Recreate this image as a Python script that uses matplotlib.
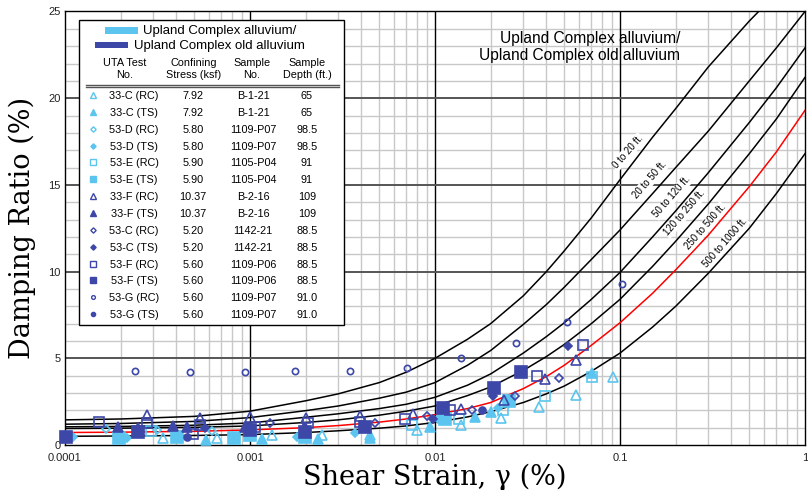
"""Damping ratio vs shear strain with EPRI-style depth curves."""

import matplotlib.pyplot as plt
from matplotlib.lines import Line2D
from matplotlib.patches import Rectangle
from matplotlib.ticker import FixedLocator, NullFormatter

plt.rcParams["font.family"] = ["Liberation Sans", "DejaVu Sans"]

LIGHT = "#5BC5EF"
DARK = "#3C47A8"

# Depth-range curves.
STRAIN = [1e-4, 2e-4, 5e-4, 1e-3, 2e-3, 3e-3, 5e-3, 7e-3, 0.01, 0.015, 0.02,
          0.03, 0.04, 0.05, 0.07, 0.1, 0.15, 0.2, 0.3, 0.5, 0.7, 1.0]
CURVE_0_20 = [1.45, 1.50, 1.65, 1.95, 2.55, 2.95, 3.6, 4.2, 5.0, 6.1, 7.0,
              8.6, 10.0, 11.2, 13.1, 15.3, 17.75, 19.4, 21.8, 24.45, 26.05, 27.5]
CURVE_20_50 = [1.2, 1.24, 1.36, 1.58, 1.98, 2.25, 2.7, 3.05, 3.6, 4.6, 5.45,
               6.95, 8.1, 9.1, 10.7, 12.4, 14.5, 16.0, 18.1, 21.0, 22.9, 25.0]
CURVE_50_120 = [1.05, 1.07, 1.14, 1.27, 1.6, 1.8, 2.1, 2.35, 2.75, 3.45, 4.1,
                5.3, 6.25, 7.05, 8.4, 9.95, 12.0, 13.5, 15.7, 18.6, 20.6, 22.9]
CURVE_120_250 = [0.95, 0.97, 1.02, 1.1, 1.3, 1.45, 1.72, 1.95, 2.25, 2.85,
                 3.35, 4.3, 5.1, 5.8, 7.0, 8.4, 10.3, 11.75, 13.9, 16.8,
                 18.8, 21.2]
CURVE_250_500 = [0.72, 0.74, 0.79, 0.87, 1.0, 1.12, 1.32, 1.5, 1.75, 2.1,
                 2.45, 3.25, 3.95, 4.6, 5.75, 7.05, 8.75, 10.1, 12.1, 14.9,
                 16.9, 19.3]
CURVE_500_1000 = [0.5, 0.52, 0.55, 0.6, 0.72, 0.82, 0.97, 1.1, 1.3, 1.62,
                  1.92, 2.45, 2.95, 3.4, 4.25, 5.3, 6.8, 8.0, 9.9, 12.5,
                  14.5, 16.8]
CURVE_NAMES = ["0 to 20 ft.", "20 to 50 ft.", "50 to 120 ft.",
               "120 to 250 ft.", "250 to 500 ft.", "500 to 1000 ft."]

# Test data.
T33C_RC_X = [3.4e-4, 6.6e-4, 1.31e-3, 2.44e-3, 4.45e-3, 8.0e-3, 0.0139,
             0.0226, 0.0366, 0.0576, 0.0913]
T33C_RC_Y = [0.42, 0.42, 0.58, 0.58, 0.58, 0.87, 1.15, 1.54, 2.17, 2.88, 3.94]
T33C_TS_X = [5.76e-4, 1.16e-3, 2.34e-3, 4.45e-3, 9.4e-3, 0.0165, 0.0201, 0.0703]
T33C_TS_Y = [0.29, 0.33, 0.33, 0.38, 1.06, 1.63, 1.92, 4.15]
T53D_RC_X = [1.67e-4, 3.16e-4, 6.21e-4]
T53D_RC_Y = [0.9, 0.86, 0.81]
T53D_TS_X = [1.11e-4, 2.15e-4, 1.79e-3, 3.7e-3, 0.0104, 0.0219]
T53D_TS_Y = [0.48, 0.42, 0.48, 0.71, 1.48, 2.12]
T53E_RC_X = [2.92e-4, 7.48e-3, 0.0135, 0.0234, 0.0393, 0.0703]
T53E_RC_Y = [0.81, 1.15, 1.48, 2.02, 2.83, 3.9]
T53E_TS_X = [1.97e-4, 4.05e-4, 8.2e-4, 1.0e-3, 1.98e-3, 0.0113, 0.025]
T53E_TS_Y = [0.42, 0.48, 0.42, 0.58, 0.48, 1.48, 2.56]
T33F_RC_X = [2.76e-4, 5.37e-4, 1.0e-3, 2.02e-3, 3.93e-3, 7.63e-3, 0.0139,
             0.0237, 0.0393, 0.0576]
T33F_RC_Y = [1.73, 1.57, 1.63, 1.54, 1.67, 1.79, 2.06, 2.6, 3.79, 4.9]
T33F_TS_X = [1.94e-4, 2.47e-4, 3.85e-4, 4.58e-4, 9.4e-4, 1.98e-3]
T33F_TS_Y = [1.06, 0.96, 1.11, 1.06, 1.06, 1.02]
T53C_RC_X = [1.28e-3, 4.74e-3, 9.0e-3, 0.0158, 0.027, 0.0468]
T53C_RC_Y = [1.25, 1.25, 1.67, 2.02, 2.83, 3.85]
T53C_TS_X = [5.71e-4, 9.8e-3, 0.0205, 0.0526]
T53C_TS_Y = [0.96, 1.48, 2.83, 5.71]
T53F_RC_X = [1.53e-4, 2.78e-4, 4.9e-4, 5.37e-4, 1.06e-3, 2.06e-3, 3.93e-3,
             6.9e-3, 0.0121, 0.0358, 0.0629]
T53F_RC_Y = [1.34, 1.25, 0.62, 1.15, 1.06, 1.25, 1.34, 1.48, 2.02, 3.98, 5.77]
T53F_TS_X = [1.01e-4, 2.47e-4, 1.0e-3, 1.98e-3, 4.2e-3, 0.011, 0.0209, 0.029]
T53F_TS_Y = [0.48, 0.73, 0.87, 0.77, 1.06, 2.12, 3.3, 4.23]
T53G_RC_X = [2.39e-4, 4.74e-4, 9.4e-4, 1.75e-3, 3.47e-3, 7.06e-3, 0.0138,
             0.0274, 0.0517, 0.1025]
T53G_RC_Y = [4.27, 4.21, 4.21, 4.27, 4.27, 4.44, 5.02, 5.88, 7.09, 9.28]
T53G_TS_X = [4.55e-4, 0.0179]
T53G_TS_Y = [0.48, 2.02]

# Legend table.
TEST_NAMES = ["33-C (RC)", "33-C (TS)", "53-D (RC)", "53-D (TS)", "53-E (RC)",
              "53-E (TS)", "33-F (RC)", "33-F (TS)", "53-C (RC)", "53-C (TS)",
              "53-F (RC)", "53-F (TS)", "53-G (RC)", "53-G (TS)"]
STRESS = ["7.92", "7.92", "5.80", "5.80", "5.90", "5.90", "10.37", "10.37",
          "5.20", "5.20", "5.60", "5.60", "5.60", "5.60"]
SAMPLE = ["B-1-21", "B-1-21", "1109-P07", "1109-P07", "1105-P04", "1105-P04",
          "B-2-16", "B-2-16", "1142-21", "1142-21", "1109-P06", "1109-P06",
          "1109-P07", "1109-P07"]
DEPTH = ["65", "65", "98.5", "98.5", "91", "91", "109", "109", "88.5", "88.5",
         "88.5", "88.5", "91.0", "91.0"]

W, H = 808, 490


def fx(px):
    return px / W


def fy(py):
    return 1 - py / H


fig = plt.figure(figsize=(W / 100, H / 100), dpi=100)
ax = fig.add_axes([fx(65), fy(445), fx(805) - fx(65), fy(11.5) - fy(445)])
ax.set_xscale("log")
ax.set_xlim(1e-4, 1)
ax.set_ylim(0, 25)

# grid
minor_x = [m * 10.0 ** e for e in range(-4, 0) for m in range(2, 10)]
for v in minor_x:
    ax.axvline(v, color="#c8c8c8", lw=1.0, zorder=0)
for v in [1e-3, 1e-2, 1e-1]:
    ax.axvline(v, color="black", lw=1.0, zorder=0.5)
for v in range(1, 25):
    if v % 5:
        ax.axhline(v, color="#c8c8c8", lw=1.0, zorder=0)
    else:
        ax.axhline(v, color="#555555", lw=1.4, zorder=0.5)

ax.xaxis.set_major_locator(FixedLocator([1e-4, 1e-3, 1e-2, 1e-1, 1]))
ax.set_xticklabels(["0.0001", "0.001", "0.01", "0.1", "1"])
ax.xaxis.set_minor_locator(FixedLocator(minor_x))
ax.xaxis.set_minor_formatter(NullFormatter())
ax.set_yticks([0, 5, 10, 15, 20, 25])
ax.tick_params(axis="both", which="both", length=0, labelsize=8,
               labelcolor="#222222", pad=3)
ax.tick_params(axis="x", pad=6)
for s in ax.spines.values():
    s.set_linewidth(1.0)

curves = [CURVE_0_20, CURVE_20_50, CURVE_50_120, CURVE_120_250,
          CURVE_250_500, CURVE_500_1000]
for i, c in enumerate(curves):
    ax.plot(STRAIN, c, color="red" if i == 4 else "black", lw=1.1, zorder=2)

# curve labels
label_pos = [(0.1104, 16.9), (0.145, 15.28), (0.191, 14.3), (0.224, 13.38),
             (0.288, 12.57), (0.37, 11.65)]
for (x, y), name in zip(label_pos, CURVE_NAMES):
    ax.text(x, y, name, rotation=49, ha="center", va="center", fontsize=7,
            zorder=3, bbox=dict(fc="white", ec="none", pad=0.6))

ax.text(fx(680), fy(47), "Upland Complex alluvium/\nUpland Complex old alluvium",
        transform=fig.transFigure, ha="right", va="center", fontsize=11.2,
        multialignment="right", linespacing=1.2, zorder=3)

# series: (x, y, color, marker, filled, size)
series = [
    (T33C_RC_X, T33C_RC_Y, LIGHT, "^", False, 7.5),
    (T33C_TS_X, T33C_TS_Y, LIGHT, "^", True, 7.5),
    (T53D_RC_X, T53D_RC_Y, LIGHT, "D", False, 4.5),
    (T53D_TS_X, T53D_TS_Y, LIGHT, "D", True, 4.5),
    (T53E_RC_X, T53E_RC_Y, LIGHT, "s", False, 7.5),
    (T53E_TS_X, T53E_TS_Y, LIGHT, "s", True, 8),
    (T33F_RC_X, T33F_RC_Y, DARK, "^", False, 7.5),
    (T33F_TS_X, T33F_TS_Y, DARK, "^", True, 7.5),
    (T53C_RC_X, T53C_RC_Y, DARK, "D", False, 4.5),
    (T53C_TS_X, T53C_TS_Y, DARK, "D", True, 4.5),
    (T53F_RC_X, T53F_RC_Y, DARK, "s", False, 7.5),
    (T53F_TS_X, T53F_TS_Y, DARK, "s", True, 8),
    (T53G_RC_X, T53G_RC_Y, DARK, "o", False, 4.5),
    (T53G_TS_X, T53G_TS_Y, DARK, "o", True, 5),
]
for x, y, col, mk, filled, ms in series:
    ax.plot(x, y, ls="none", marker=mk, ms=ms, mec=col, mew=1.2,
            mfc=col if filled else "none", zorder=4, clip_on=False)

# legend box
fig.add_artist(Rectangle((fx(79), fy(325)), fx(344) - fx(79), fy(20) - fy(325),
                         transform=fig.transFigure, fc="white", ec="black",
                         lw=1.0, zorder=5))
fig.add_artist(Rectangle((fx(105), fy(34)), fx(138) - fx(105), fy(27) - fy(34),
                         transform=fig.transFigure, fc=LIGHT, ec="none", zorder=6))
fig.add_artist(Rectangle((fx(95), fy(48.5)), fx(128) - fx(95), fy(42) - fy(48.5),
                         transform=fig.transFigure, fc=DARK, ec="none", zorder=6))
fig.text(fx(143), fy(31), "Upland Complex alluvium/", fontsize=9.5,
         va="center", zorder=6)
fig.text(fx(134), fy(46), "Upland Complex old alluvium", fontsize=9.5,
         va="center", zorder=6)
headers = [(125, "UTA Test\nNo."), (194, "Confining\nStress (ksf)"),
           (252, "Sample\nNo."), (307, "Sample\nDepth (ft.)")]
for px, txt in headers:
    fig.text(fx(px), fy(69), txt, fontsize=7.8, ha="center", va="center",
             linespacing=1.15, zorder=6)
for py in (85, 87.5):
    fig.add_artist(Line2D([fx(86), fx(339)], [fy(py), fy(py)],
                          transform=fig.transFigure, color="#555555",
                          lw=1.0, zorder=6))
for i, (x, y, col, mk, filled, ms) in enumerate(series):
    py = 96 + i * 16.85
    fig.add_artist(Line2D([fx(93)], [fy(py - 1)], transform=fig.transFigure,
                          ls="none", marker=mk, ms=ms * 0.6, mec=col, mew=1.0,
                          mfc=col if filled else "none", zorder=6))
    for px, txt in [(134, TEST_NAMES[i]), (193, STRESS[i]),
                    (253, SAMPLE[i]), (307, DEPTH[i])]:
        fig.text(fx(px), fy(py), txt, fontsize=7.8, ha="center", va="center",
                 zorder=6)

ax.set_xlabel("Shear Strain, γ (%)", family="DejaVu Serif", fontsize=19.5,
              labelpad=0)
ax.set_ylabel("Damping Ratio (%)", family="DejaVu Serif", fontsize=19.5,
              labelpad=9)

fig.savefig("out.png", dpi=100)
